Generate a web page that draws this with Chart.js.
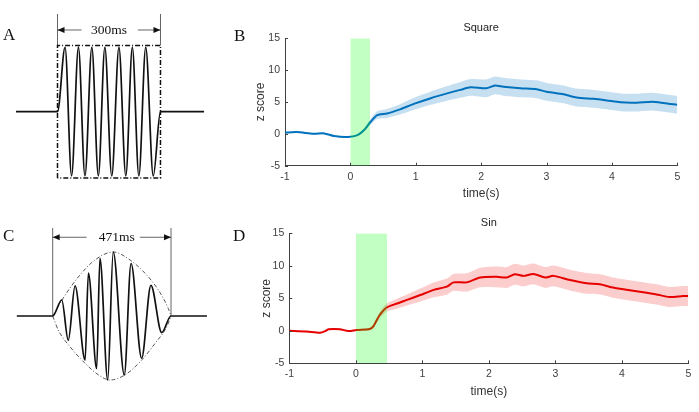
<!DOCTYPE html>
<html>
<head>
<meta charset="utf-8">
<script src="https://cdn.jsdelivr.net/npm/chart.js@4.4.1/dist/chart.umd.min.js"></script>
<style>
  body { margin: 0; background: #fff; width: 699px; height: 412px; position: relative; overflow: hidden; }
  canvas { position: absolute; }
  .tag { position: absolute; font: 17px "Liberation Serif", serif; line-height: 17px; color: #111; }
</style>
</head>
<body>
<canvas id="cA" width="230" height="200" style="left:0;top:0"></canvas>
<canvas id="cB" width="469" height="206" style="left:230px;top:0"></canvas>
<canvas id="cC" width="230" height="212" style="left:0;top:200px"></canvas>
<canvas id="cD" width="469" height="206" style="left:230px;top:206px"></canvas>
<div class="tag" style="left:3px;top:26px">A</div>
<div class="tag" style="left:234px;top:27px">B</div>
<div class="tag" style="left:3px;top:227px">C</div>
<div class="tag" style="left:233px;top:227px">D</div>
<script>
// ---- stimulus A: square-enveloped tone (ms, relative amplitude)
const squareWaveMs  = [-121, 0, 22, 41, 61, 80, 100, 119, 138, 158, 179, 199, 218, 237, 257, 279, 300, 427];
const squareWaveAmp = [0, 0, 0.97, -0.97, 0.97, -0.97, 0.97, -0.97, 0.97, -0.97, 0.97, -0.97, 0.97, -0.97, 0.97, -0.97, 0, 0];
const squareBoxMs   = [0, 0, 300, 300, 0];
const squareBoxAmp  = [-1, 1, 1, -1, -1];
const squareSpan    = [0, 300];

// ---- stimulus C: sine-enveloped tone
const sinWaveMs  = [-143, 0, 36, 62, 89, 129, 142, 175, 188, 219, 241, 285, 312, 354, 391, 434, 471, 614];
const sinWaveAmp = [0, 0, 0.25, -0.38, 0.47, -0.69, 0.67, -0.82, 0.9, -1.0, 1.0, -0.92, 0.82, -0.66, 0.48, -0.26, 0, 0];
const sinEnvTopMs  = [0, 42, 102, 168, 241, 308, 367, 420, 460, 471];
const sinEnvTopAmp = [0, 0.28, 0.61, 0.875, 1.0, 0.875, 0.67, 0.41, 0.12, 0];
const sinEnvBotMs  = [0, 22, 69, 129, 182, 228, 288, 354, 407, 454, 471];
const sinEnvBotAmp = [0, -0.22, -0.48, -0.74, -0.92, -1.0, -0.92, -0.69, -0.43, -0.17, 0];
const sinSpan = [0, 471];

// ---- responses (z score vs time in s)
const squareTime = [-1, -0.82, -0.56, -0.4, -0.25, -0.04, 0.11, 0.21, 0.31, 0.41, 0.56, 0.76, 0.97, 1.23, 1.48, 1.68, 1.84, 2.08, 2.21, 2.34, 2.6, 2.85, 3.0, 3.26, 3.46, 3.72, 3.92, 4.13, 4.38, 4.61, 4.79, 5.0];
const squareMean = [0.2, 0.28, 0.0, 0.07, -0.35, -0.5, -0.2, 0.6, 1.9, 2.95, 3.2, 3.85, 4.7, 5.6, 6.35, 6.9, 7.3, 7.15, 7.6, 7.4, 7.15, 7.0, 6.6, 6.2, 5.7, 5.5, 5.25, 4.95, 4.9, 5.05, 4.85, 4.55];
const squareSem  = [0.1, 0.1, 0.1, 0.1, 0.1, 0.1, 0.15, 0.25, 0.45, 0.6, 0.7, 0.8, 0.95, 1.05, 1.15, 1.25, 1.3, 1.4, 1.4, 1.4, 1.4, 1.4, 1.4, 1.4, 1.4, 1.4, 1.4, 1.4, 1.4, 1.4, 1.4, 1.4];
const squareStim = [0, 0.3];

const sinTime = [-1, -0.74, -0.54, -0.45, -0.41, -0.24, -0.11, 0.01, 0.21, 0.26, 0.36, 0.46, 0.62, 0.77, 0.97, 1.17, 1.37, 1.47, 1.67, 1.87, 2.12, 2.27, 2.39, 2.52, 2.67, 2.85, 2.97, 3.22, 3.47, 3.67, 3.87, 4.07, 4.27, 4.52, 4.72, 4.92, 5.0];
const sinMean = [0, -0.1, -0.3, 0.0, 0.23, 0.23, -0.03, 0.12, 0.28, 0.63, 2.43, 3.55, 4.2, 4.75, 5.5, 6.3, 6.8, 7.45, 7.45, 8.2, 8.3, 8.2, 8.7, 8.45, 8.75, 8.2, 8.45, 7.8, 7.3, 7.15, 6.65, 6.3, 6.0, 5.6, 5.2, 5.35, 5.35];
const sinSem  = [0.1, 0.1, 0.1, 0.1, 0.1, 0.1, 0.1, 0.1, 0.2, 0.25, 0.45, 0.6, 0.75, 0.85, 1.0, 1.15, 1.25, 1.3, 1.4, 1.5, 1.6, 1.6, 1.6, 1.6, 1.6, 1.6, 1.6, 1.6, 1.6, 1.55, 1.55, 1.55, 1.55, 1.55, 1.55, 1.55, 1.55];
const sinStim = [0, 0.47];

const timeTicks = [-1, 0, 1, 2, 3, 4, 5];
const zTicks = [-5, 0, 5, 10, 15];

Chart.defaults.font.family = '"Liberation Sans", Arial, sans-serif';
Chart.defaults.animation = false;

const pts = (xs, ys) => xs.map((x, i) => ({ x, y: ys[i] }));

// arrowheads + duration label for the stimulus sketches
const spanLabel = {
  id: 'spanLabel',
  afterDatasetsDraw(chart, args, o) {
    const { ctx, scales: { x, y } } = chart;
    const yy = y.getPixelForValue(o.level);
    const x0 = x.getPixelForValue(o.span[0]);
    const x1 = x.getPixelForValue(o.span[1]);
    ctx.save();
    ctx.fillStyle = '#111';
    [[x0, 1], [x1, -1]].forEach(([px, d]) => {
      ctx.beginPath();
      ctx.moveTo(px, yy);
      ctx.lineTo(px + 7 * d, yy - 3);
      ctx.lineTo(px + 7 * d, yy + 3);
      ctx.closePath();
      ctx.fill();
    });
    ctx.font = '13.5px "Liberation Serif", serif';
    ctx.textAlign = 'center';
    ctx.textBaseline = 'middle';
    ctx.fillText(o.text, x.getPixelForValue(o.textAt), yy);
    ctx.restore();
  }
};

function stimChart(id, sets, xr, yr, label) {
  new Chart(document.getElementById(id), {
    type: 'line',
    data: { datasets: sets },
    options: {
      responsive: false,
      devicePixelRatio: 1,
      layout: { padding: 0 },
      elements: { point: { radius: 0 } },
      scales: {
        x: { type: 'linear', display: false, min: xr[0], max: xr[1] },
        y: { type: 'linear', display: false, min: yr[0], max: yr[1] }
      },
      plugins: { legend: { display: false }, tooltip: { enabled: false }, spanLabel: label }
    },
    plugins: [spanLabel]
  });
}

const wave = (data) => ({ data, borderColor: '#111', borderWidth: 1.7, cubicInterpolationMode: 'monotone', fill: false });
const guide = (data) => ({ data, borderColor: '#666', borderWidth: 1, fill: false });

// A
stimChart('cA', [
  wave(pts(squareWaveMs, squareWaveAmp)),
  { data: pts(squareBoxMs, squareBoxAmp), borderColor: '#111', borderWidth: 1.5, borderDash: [5, 2, 1, 2], fill: false },
  guide(pts([0, 0], [1, 1.476])),
  guide(pts([300, 300], [1, 1.476])),
  guide(pts([0, 70], [1.234, 1.234])),
  guide(pts([234, 300], [1.234, 1.234]))
], [-167.5, 502.5], [-1.334, 1.687], { span: squareSpan, level: 1.234, text: '300ms', textAt: 150 });

// C
stimChart('cC', [
  wave(pts(sinWaveMs, sinWaveAmp)),
  { data: pts(sinEnvTopMs, sinEnvTopAmp), borderColor: '#555', borderWidth: 1, borderDash: [4, 2, 1, 2], cubicInterpolationMode: 'monotone', fill: false },
  { data: pts(sinEnvBotMs, sinEnvBotAmp), borderColor: '#555', borderWidth: 1, borderDash: [4, 2, 1, 2], cubicInterpolationMode: 'monotone', fill: false },
  guide(pts([0, 0], [0, 1.375])),
  guide(pts([471, 471], [0, 1.375])),
  guide(pts([0, 135], [1.23, 1.23])),
  guide(pts([347, 471], [1.23, 1.23]))
], [-209.8, 705.8], [-1.5, 1.8125], { span: sinSpan, level: 1.23, text: '471ms', textAt: 255 });

// title + inward tick marks, MATLAB style
const panelDecor = {
  id: 'panelDecor',
  afterDraw(chart, args, o) {
    const { ctx, chartArea: a, scales: { x, y } } = chart;
    ctx.save();
    ctx.strokeStyle = '#404040';
    ctx.lineWidth = 1;
    ctx.beginPath();
    x.ticks.forEach(t => {
      const px = Math.round(x.getPixelForValue(t.value)) + 0.5;
      ctx.moveTo(px, a.bottom); ctx.lineTo(px, a.bottom - 3);
    });
    y.ticks.forEach(t => {
      const py = Math.round(y.getPixelForValue(t.value)) + 0.5;
      ctx.moveTo(a.left, py); ctx.lineTo(a.left + 3, py);
    });
    ctx.stroke();
    ctx.fillStyle = '#222';
    ctx.font = '11px "Liberation Sans", Arial, sans-serif';
    ctx.textAlign = 'center';
    ctx.textBaseline = 'middle';
    ctx.fillText(o.title, (a.left + a.right) / 2, a.top - 10);
    ctx.restore();
  }
};

function responseChart(id, c) {
  const upper = c.mean.map((m, i) => m + c.sem[i]);
  const lower = c.mean.map((m, i) => m - c.sem[i]);
  const axis = (ticks, title, pad, fit) => ({
    type: 'linear',
    min: ticks[0], max: ticks[ticks.length - 1],
    afterBuildTicks: s => { s.ticks = ticks.map(v => ({ value: v })); },
    afterFit: fit,
    grid: { display: true, drawOnChartArea: false, drawTicks: false },
    border: { display: true, color: '#404040', width: 1 },
    ticks: { color: '#404040', font: { size: 10.5 }, padding: 5, maxRotation: 0, autoSkip: false },
    title: { display: true, text: title, color: '#333', font: { size: 12 }, padding: pad }
  });
  new Chart(document.getElementById(id), {
    type: 'line',
    data: {
      datasets: [
        { data: pts(c.stim, [15, 15]), fill: 'start', backgroundColor: 'rgba(0,255,0,0.24)', borderWidth: 0, pointRadius: 0 },
        { data: pts(c.time, c.mean), borderColor: c.color, borderWidth: 2, pointRadius: 0, tension: 0.25, fill: false },
        { data: pts(c.time, upper), borderWidth: 0, pointRadius: 0, tension: 0.25, fill: '+1', backgroundColor: c.band },
        { data: pts(c.time, lower), borderWidth: 0, pointRadius: 0, tension: 0.25, fill: false }
      ]
    },
    options: {
      responsive: false,
      devicePixelRatio: 1,
      layout: { padding: c.padding },
      scales: {
        x: axis(timeTicks, 'time(s)', { top: 0, bottom: c.xTitlePad }, s => { s.height = c.xHeight; }),
        y: axis(zTicks, 'z score', { top: c.yTitlePad, bottom: 0 }, s => { s.width = c.yWidth; })
      },
      plugins: { legend: { display: false }, tooltip: { enabled: false }, panelDecor: { title: c.title } }
    },
    plugins: [panelDecor]
  });
}

// B
responseChart('cB', {
  time: squareTime, mean: squareMean, sem: squareSem, stim: squareStim, title: 'Square',
  color: 'rgb(0,114,189)', band: 'rgba(0,114,189,0.22)',
  padding: { left: 0, right: 21.7, top: 38.3, bottom: 0 },
  yWidth: 55, xHeight: 40.3, yTitlePad: 23, xTitlePad: 5.5
});

// D
responseChart('cD', {
  time: sinTime, mean: sinMean, sem: sinSem, stim: sinStim, title: 'Sin',
  color: 'rgb(230,0,0)', band: 'rgba(245,60,60,0.26)',
  padding: { left: 0, right: 10.7, top: 27.3, bottom: 0 },
  yWidth: 59.3, xHeight: 48.7, yTitlePad: 29.5, xTitlePad: 13
});
</script>
</body>
</html>
